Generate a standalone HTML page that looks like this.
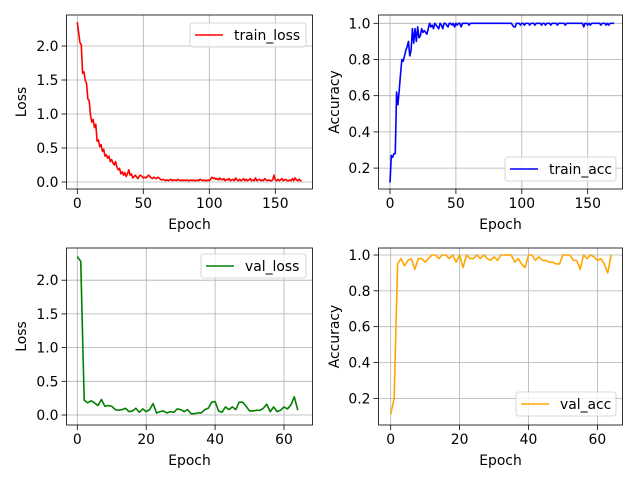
<!DOCTYPE html>
<html><head><meta charset="utf-8"><style>
body{margin:0;background:#fff;}
svg text{font-family:"DejaVu Sans","Liberation Sans",sans-serif;font-size:13.9px;fill:#000;}
</style></head><body>
<svg id="fig" width="640" height="480" xmlns="http://www.w3.org/2000/svg"></svg>
<script>
const trainLoss=[2.35,2.2,2.05,2.02,1.6,1.62,1.5,1.45,1.22,1.2,0.98,0.88,0.92,0.8,0.85,0.6,0.62,0.52,0.55,0.45,0.48,0.38,0.4,0.35,0.38,0.3,0.33,0.28,0.25,0.3,0.22,0.18,0.2,0.12,0.15,0.1,0.14,0.08,0.12,0.18,0.1,0.12,0.06,0.08,0.1,0.07,0.05,0.09,0.1,0.08,0.06,0.07,0.06,0.08,0.1,0.08,0.06,0.05,0.07,0.06,0.05,0.07,0.06,0.04,0.03,0.04,0.03,0.02,0.03,0.02,0.03,0.04,0.02,0.03,0.03,0.02,0.04,0.03,0.02,0.03,0.02,0.03,0.02,0.03,0.02,0.02,0.03,0.02,0.03,0.02,0.02,0.03,0.02,0.04,0.03,0.02,0.03,0.02,0.02,0.03,0.02,0.04,0.07,0.05,0.06,0.04,0.05,0.03,0.06,0.04,0.03,0.05,0.02,0.04,0.03,0.05,0.02,0.03,0.04,0.02,0.06,0.03,0.02,0.04,0.02,0.03,0.05,0.02,0.04,0.02,0.03,0.05,0.02,0.03,0.02,0.06,0.02,0.03,0.04,0.02,0.03,0.02,0.05,0.03,0.02,0.03,0.02,0.02,0.03,0.1,0.03,0.02,0.04,0.02,0.03,0.05,0.02,0.03,0.04,0.02,0.02,0.03,0.02,0.05,0.02,0.06,0.03,0.02,0.04,0.02,0.02];
const trainAcc=[0.12,0.27,0.26,0.28,0.28,0.62,0.55,0.63,0.72,0.8,0.79,0.82,0.85,0.87,0.9,0.82,0.85,0.97,0.89,0.97,0.9,0.98,0.92,0.93,0.97,0.95,0.96,0.95,0.94,0.97,1.0,0.98,0.99,0.97,1.0,0.99,0.98,0.97,1.0,0.99,0.97,1.0,1.0,0.99,0.98,1.0,1.0,0.99,1.0,0.98,1.0,0.99,1.0,1.0,0.98,1.0,1.0,1.0,1.0,1.0,0.99,1.0,1.0,1.0,1.0,1.0,1.0,1.0,1.0,1.0,1.0,1.0,1.0,1.0,1.0,1.0,1.0,1.0,1.0,1.0,1.0,1.0,1.0,1.0,1.0,1.0,1.0,1.0,1.0,1.0,1.0,1.0,1.0,0.99,0.98,0.98,1.0,1.0,1.0,0.99,1.0,1.0,0.99,1.0,1.0,1.0,0.99,1.0,1.0,1.0,0.99,1.0,1.0,1.0,1.0,0.99,1.0,1.0,0.99,1.0,1.0,1.0,0.99,1.0,1.0,1.0,1.0,0.99,1.0,1.0,1.0,1.0,1.0,0.99,1.0,1.0,1.0,1.0,1.0,1.0,1.0,1.0,1.0,1.0,1.0,1.0,1.0,0.98,1.0,1.0,0.99,1.0,0.99,1.0,1.0,1.0,1.0,1.0,1.0,1.0,0.99,1.0,1.0,1.0,0.99,1.0,0.99,1.0,1.0,1.0,1.0];
const valLoss=[2.35,2.28,0.22,0.18,0.21,0.18,0.14,0.23,0.13,0.14,0.13,0.08,0.07,0.08,0.1,0.05,0.06,0.1,0.04,0.09,0.05,0.08,0.17,0.03,0.05,0.06,0.03,0.05,0.04,0.09,0.08,0.05,0.08,0.02,0.02,0.03,0.03,0.08,0.1,0.19,0.2,0.06,0.04,0.12,0.08,0.12,0.08,0.19,0.19,0.13,0.06,0.06,0.07,0.07,0.1,0.16,0.05,0.12,0.05,0.07,0.12,0.09,0.15,0.27,0.07];
const valAcc=[0.11,0.2,0.95,0.98,0.94,0.97,0.98,0.92,0.98,0.98,0.96,0.98,1.0,1.0,0.98,1.0,1.0,0.98,1.0,0.96,1.0,0.93,1.0,0.98,0.98,1.0,0.98,1.0,0.98,0.97,0.99,0.97,1.0,1.0,1.0,1.0,0.96,0.98,0.95,0.93,1.0,1.0,0.97,0.99,0.97,0.97,0.96,0.96,0.95,0.95,1.0,1.0,1.0,0.97,0.97,0.92,1.0,0.98,1.0,0.99,0.97,0.98,0.95,0.9,1.0];
const xTicksTrain=[0,50,100,150];
const xTicksVal=[0,20,40,60];
const yTicksLoss=[0,0.5,1.0,1.5,2.0];
const yTicksAcc=[0.2,0.4,0.6,0.8,1.0];

const NS="http://www.w3.org/2000/svg";
const fig=document.getElementById('fig');
function mk(tag,attrs,parent){const e=document.createElementNS(NS,tag);for(const k in attrs)e.setAttribute(k,attrs[k]);(parent||fig).appendChild(e);return e;}

const panels=[
 {name:'train-loss',data:trainLoss,color:'#ff0000',label:'train_loss',ylab:'Loss',fx:[66.5,312.5],fy:[15,189],x0:77.3,sx:1.32,y0:182,yv0:0,sy:68,xt:xTicksTrain,yt:yTicksLoss,leg:[190,23,116,24],ylx:22},
 {name:'train-acc',data:trainAcc,color:'#0000ff',label:'train_acc',ylab:'Accuracy',fx:[378.5,622.5],fy:[15,189],x0:390,sx:1.318,y0:23.3,yv0:1,sy:181,xt:xTicksTrain,yt:yTicksAcc,leg:[505,157,111,24],ylx:335},
 {name:'val-loss',data:valLoss,color:'#008000',label:'val_loss',ylab:'Loss',fx:[66.5,312.5],fy:[248,425],x0:77.3,sx:3.445,y0:415,yv0:0,sy:67.4,xt:xTicksVal,yt:yTicksLoss,leg:[201,254,105,24],ylx:22},
 {name:'val-acc',data:valAcc,color:'#ffa500',label:'val_acc',ylab:'Accuracy',fx:[378.5,622.5],fy:[248,425],x0:390.7,sx:3.445,y0:255,yv0:1,sy:179.2,xt:xTicksVal,yt:yTicksAcc,leg:[516,392,100,24],ylx:335}
];
panels.forEach(p=>{
 const X=v=>p.x0+v*p.sx, Y=v=>p.y0-(v-p.yv0)*p.sy;
 const g=mk('g',{});
 
 
 const [l,r]=p.fx,[t,b]=p.fy;
 p.xt.forEach(v=>{
  const gl=mk('line',{x1:X(v),x2:X(v),y1:t,y2:b,stroke:'#b0b0b0','stroke-width':0.8},g);
  
  
  mk('line',{x1:X(v),x2:X(v),y1:b,y2:b+5,stroke:'#000','stroke-width':0.8},g);
  const tx=mk('text',{x:X(v),y:b+19,'text-anchor':'middle'},g);tx.textContent=String(v);
  
  
 });
 p.yt.forEach(v=>{
  const gl=mk('line',{x1:l,x2:r,y1:Y(v),y2:Y(v),stroke:'#b0b0b0','stroke-width':0.8},g);
  
  
  mk('line',{x1:l-5,x2:l,y1:Y(v),y2:Y(v),stroke:'#000','stroke-width':0.8},g);
  const tx=mk('text',{x:l-8,y:Y(v)+5,'text-anchor':'end'},g);tx.textContent=v.toFixed(1);
  
  
 });
 const pts=p.data.map((v,i)=>X(i).toFixed(2)+','+Y(v).toFixed(2)).join(' ');
 const line=mk('polyline',{points:pts,fill:'none',stroke:p.color,'stroke-width':1.6,'stroke-linejoin':'round'},g);
 
 
 const fr=mk('rect',{x:l,y:t,width:r-l,height:b-t,fill:'none',stroke:'#000','stroke-width':0.8},g);
 
 
 const xl=mk('text',{x:(l+r)/2,y:b+40,'text-anchor':'middle'},g);xl.textContent='Epoch';
 
 
 const yc=(t+b)/2;
 const yl=mk('text',{x:p.ylx,y:yc,'text-anchor':'middle',transform:`rotate(-90 ${p.ylx} ${yc})`,'dominant-baseline':'central'},g);yl.textContent=p.ylab;
 
 
 const [lx,ly,lw,lh]=p.leg;
 const lg=mk('g',{},g);
 
 
 mk('rect',{x:lx,y:ly,width:lw,height:lh,rx:2.5,fill:'#fff','fill-opacity':0.8,stroke:'#cccccc','stroke-width':0.8},lg);
 mk('line',{x1:lx+5,x2:lx+33,y1:ly+lh/2,y2:ly+lh/2,stroke:p.color,'stroke-width':1.5},lg);
 const lt=mk('text',{x:lx+44,y:ly+lh/2+5},lg);lt.textContent=p.label;
 
 
});
</script>
</body></html>
